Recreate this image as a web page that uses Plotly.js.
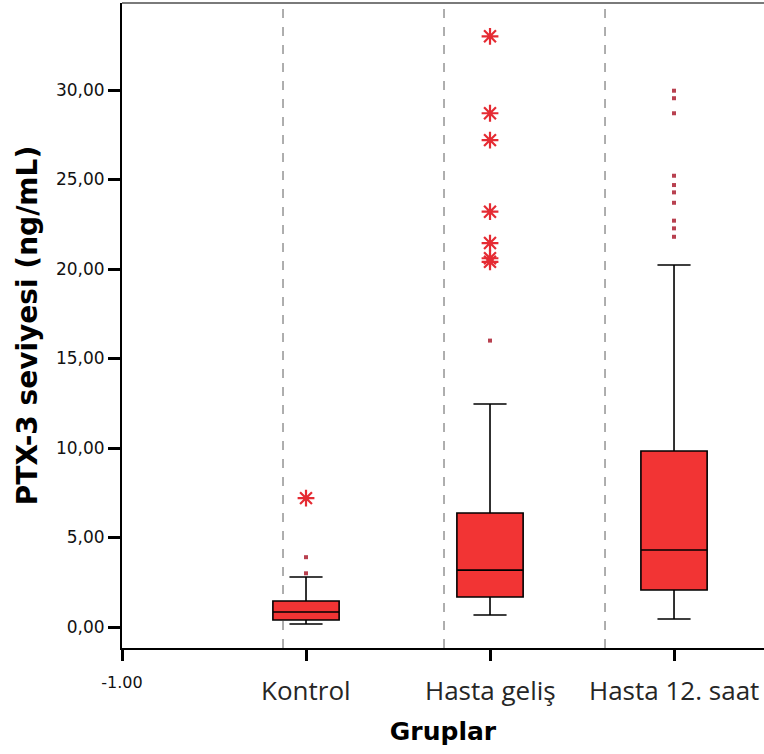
<!DOCTYPE html>
<html>
<head>
<meta charset="utf-8">
<script src="https://cdn.plot.ly/plotly-3.0.1.min.js"></script>
<style>html,body{margin:0;padding:0;background:#fff;}#chart{width:764px;height:754px;}</style>
</head>
<body>
<div id="chart"></div>
<script>
// Groups and positions on the numeric x scale
const categories = ["Kontrol", "Hasta geliş", "Hasta 12. saat"];
const catPos = [0, 1, 2];

// Box statistics (ng/mL)
const q1 = [0.39, 1.68, 2.07];
const medians = [0.84, 3.18, 4.30];
const q3 = [1.45, 6.37, 9.83];
const lowerWhisker = [0.17, 0.67, 0.45];
const upperWhisker = [2.79, 12.46, 20.22];

// Outliers (dots) and extreme values (asterisks)
const outlierDots = [
  [3.9, 3.0],
  [16.0],
  [29.96, 29.54, 28.70, 25.21, 24.69, 24.28, 23.70, 22.70, 22.27, 21.80]
];
const extremeStars = [
  [7.2],
  [33.0, 28.7, 27.2, 23.2, 21.45, 20.6, 20.4],
  []
];

// Axis ticks
const yTickVals = [0, 5, 10, 15, 20, 25, 30];
const yTickText = ["0,00", "5,00", "10,00", "15,00", "20,00", "25,00", "30,00"];
const xTickVals = [-1, 0, 1, 2];
const xTickText = ["-1.00", "", "", ""];
const refLines = [-0.125, 0.75, 1.625];

const traces = [];
catPos.forEach((p, i) => {
  traces.push({
    type: "box",
    x: [p],
    q1: [q1[i]], median: [medians[i]], q3: [q3[i]],
    lowerfence: [lowerWhisker[i]], upperfence: [upperWhisker[i]],
    width: 0.36,
    whiskerwidth: 0.5,
    fillcolor: "#f23434",
    line: {color: "#000000", width: 1.6},
    boxpoints: false,
    hoverinfo: "skip",
    showlegend: false
  });
  if (outlierDots[i].length) {
    traces.push({
      type: "scatter", mode: "markers",
      x: outlierDots[i].map(() => p), y: outlierDots[i],
      marker: {symbol: "square", size: 4, color: "#b8404f"},
      showlegend: false, hoverinfo: "skip"
    });
  }
  if (extremeStars[i].length) {
    traces.push({
      type: "scatter", mode: "markers",
      x: extremeStars[i].map(() => p), y: extremeStars[i],
      marker: {symbol: "asterisk-open", size: 14, color: "#e52b33", line: {color: "#e52b33", width: 2.2}},
      showlegend: false, hoverinfo: "skip"
    });
  }
});

const shapes = refLines.map(x => ({
  type: "line", xref: "x", yref: "paper", x0: x, x1: x, y0: 0, y1: 1,
  line: {color: "#8c8c8c", width: 1.4, dash: "dash"}, layer: "below"
}));
shapes.push({type: "line", xref: "paper", yref: "paper", x0: 0, x1: 1, y0: 1, y1: 1,
  line: {color: "#7a7a7a", width: 2}});

const annotations = categories.map((c, i) => ({
  text: c, x: catPos[i], xref: "x", y: 0, yref: "paper",
  yanchor: "top", xanchor: "center", yshift: -22, showarrow: false,
  font: {family: "Open Sans", size: 26, color: "#262626"}
}));

const layout = {
  width: 764, height: 754,
  margin: {l: 122, r: 0, t: 3, b: 106},
  paper_bgcolor: "#ffffff", plot_bgcolor: "#ffffff",
  showlegend: false,
  xaxis: {
    range: [-1, 2.489], tickvals: xTickVals, ticktext: xTickText,
    ticks: "outside", ticklen: 11, tickwidth: 3, tickcolor: "#000",
    showline: true, linecolor: "#000", linewidth: 2,
    showgrid: false, zeroline: false, ticklabelstandoff: 8,
    tickfont: {family: "DejaVu Sans", size: 16, color: "#111"},
    title: {text: "Gruplar", standoff: 31, font: {family: "DejaVu Sans", size: 25, color: "#000", weight: "bold"}}
  },
  yaxis: {
    range: [-1.173, 34.86], tickvals: yTickVals, ticktext: yTickText,
    ticks: "outside", ticklen: 12, tickwidth: 3, tickcolor: "#000",
    showline: true, linecolor: "#000", linewidth: 2,
    showgrid: false, zeroline: false,
    tickfont: {family: "DejaVu Sans", size: 17, color: "#111"},
    title: {text: "PTX-3 seviyesi (ng/mL)", standoff: 10, font: {family: "DejaVu Sans", size: 28, color: "#000", weight: "bold"}}
  },
  shapes: shapes,
  annotations: annotations
};

Plotly.newPlot("chart", traces, layout, {displayModeBar: false, staticPlot: true});
</script>
</body>
</html>
